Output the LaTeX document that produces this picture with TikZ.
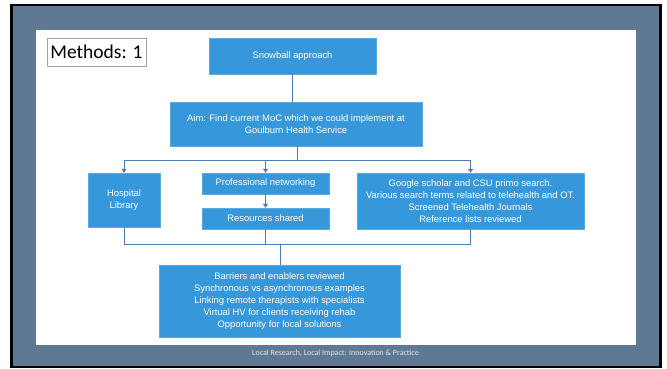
\documentclass[tikz,border=0pt]{standalone}
\usepackage{fontspec}
\setmainfont{Liberation Sans}
\newfontfamily\calibri{Carlito}
\usetikzlibrary{arrows.meta,positioning}

\definecolor{slate}{HTML}{5F7893}
\definecolor{boxblue}{HTML}{3698DB}
\definecolor{boxedge}{HTML}{5AAAE0}
\definecolor{linkblue}{HTML}{4A7EB0}
\definecolor{footgray}{HTML}{E4E8EE}
\definecolor{framegray}{HTML}{9AA3AD}

\tikzset{
  flowbox/.style={fill=boxblue, draw=boxedge, line width=0.4pt, text=white,
    font=\fontsize{9.4}{12}\selectfont, align=center, inner sep=0pt},
  link/.style={draw=linkblue, line width=0.9pt},
  linkarrow/.style={link, -{Triangle[length=4pt,width=5pt]}},
}

\begin{document}
\begin{tikzpicture}[x=1pt,y=1pt]
  \useasboundingbox (0,0) rectangle (667,369);
  \fill[white] (0,0) rectangle (667,369);

  % slide frame and content panel
  \fill[black] (10,1) rectangle (662,365);
  \fill[slate] (13,3) rectangle (659,363);
  \fill[white] (36,24) rectangle (636,339);

  % title
  \node[draw=framegray, line width=0.5pt, fill=white, minimum width=99pt,
        minimum height=28pt, inner sep=0pt,
        font=\calibri\fontsize{19.5}{21}\selectfont] (title) at (96.5,317) {Methods: 1};

  % flow boxes
  \node[flowbox, minimum width=167pt, minimum height=36pt] (snow) at (292.5,313) {Snowball approach};
  \node[flowbox, minimum width=252pt, minimum height=44pt] (aim) at (296,245)
    {Aim: Find current MoC which we could implement at\\Goulburn Health Service};
  \node[flowbox, minimum width=72pt, minimum height=54pt] (hosp) at (124,169) {Hospital\\Library};
  \node[flowbox, minimum width=127pt, minimum height=21pt] (prof) at (265.5,185.5) {Professional networking};
  \node[flowbox, minimum width=127pt, minimum height=21pt] (res) at (265.5,150.5) {Resources shared};
  \node[flowbox, minimum width=227pt, minimum height=56pt] (goog) at (470.5,168)
    {Google scholar and CSU primo search.\\
     Various search terms related to telehealth and OT.\\
     Screened Telehealth Journals\\
     Reference lists reviewed};
  \node[flowbox, minimum width=241pt, minimum height=72pt] (out) at (279.5,68)
    {Barriers and enablers reviewed\\
     Synchronous vs asynchronous examples\\
     Linking remote therapists with specialists\\
     Virtual HV for clients receiving rehab\\
     Opportunity for local solutions};

  % branch and merge points
  \coordinate (split) at (297,209);
  \coordinate (join) at (280,125);

  % connectors
  \draw[link] (snow.south) -- (snow.south |- aim.north);
  \draw[link] (aim.south -| split) -- (split);
  \draw[linkarrow] (split) -| (hosp.north);
  \draw[linkarrow] (split) -| (prof.north);
  \draw[linkarrow] (split) -| (goog.north);
  \draw[linkarrow] (prof.south) -- (res.north);
  \draw[link] (hosp.south) |- (join);
  \draw[link] (goog.south) |- (join);
  \draw[link] (res.south) -- (res.south |- join);
  \draw[link] (join) -- (join |- out.north);

  % footer
  \node[text=footgray, font=\calibri\fontsize{8}{10}\selectfont] (foot) at (335.5,16)
    {Local Research, Local Impact: Innovation \& Practice};
\end{tikzpicture}
\end{document}
